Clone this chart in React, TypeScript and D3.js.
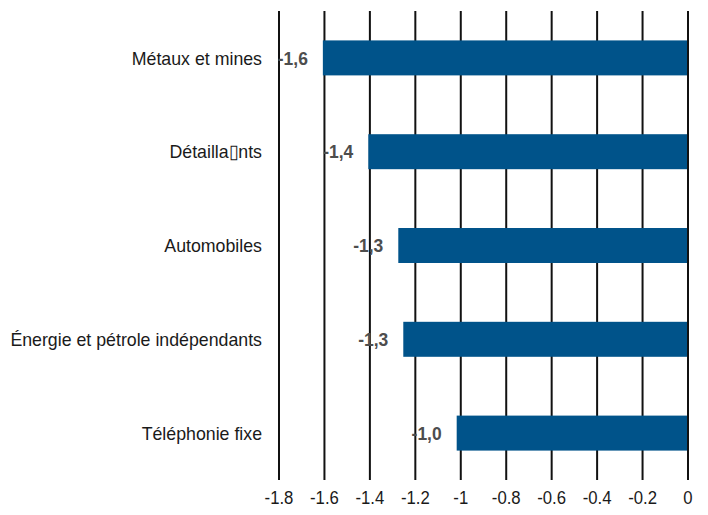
import React from "react";
import * as d3 from "d3";

const categories = [
  "Métaux et mines",
  "Détailla\u25AFnts",
  "Automobiles",
  "Énergie et pétrole indépendants",
  "Téléphonie fixe",
];
const values = [-1.607, -1.407, -1.275, -1.253, -1.018];
const valueLabels = ["-1,6", "-1,4", "-1,3", "-1,3", "-1,0"];
const ticks = [-1.8, -1.6, -1.4, -1.2, -1, -0.8, -0.6, -0.4, -0.2, 0];
const tickLabels = ["-1.8", "-1.6", "-1.4", "-1.2", "-1", "-0.8", "-0.6", "-0.4", "-0.2", "0"];

const W = 708;
const H = 515;
const FONT = "'Liberation Sans', Arial, sans-serif";

export default function App() {
  const x = d3.scaleLinear().domain([-1.8, 0]).range([279, 688]);
  const y = d3
    .scaleBand<string>()
    .domain(categories)
    .range([11, 480])
    .paddingInner(0.627)
    .paddingOuter(0.3135);
  const [y0, y1] = y.range();

  const txt = (
    key: string,
    tx: number,
    ty: number,
    s: string,
    anchor: string,
    opts: { size: number; weight?: string; fill: string; sx: number }
  ) => (
    <text
      key={key}
      transform={`translate(${tx},${ty}) scale(${opts.sx},1)`}
      textAnchor={anchor}
      dominantBaseline="central"
      fontFamily={FONT}
      fontSize={opts.size}
      fontWeight={opts.weight || "normal"}
      fill={opts.fill}
    >
      {s}
    </text>
  );

  return (
    <svg
      width={W}
      height={H}
      style={{ position: "absolute", left: 0, top: 0, background: "#fff" }}
    >
      <g>
        {ticks
          .filter((t) => t !== 0)
          .map((t) => (
            <line
              key={"g" + t}
              x1={x(t)}
              x2={x(t)}
              y1={y0}
              y2={y1}
              stroke="#111"
              strokeWidth={2}
            />
          ))}
      </g>
      <g>
        {categories.map((c, i) => (
          <rect
            key={"b" + c}
            x={x(values[i])}
            y={y(c)!}
            width={x(0) - x(values[i])}
            height={y.bandwidth()}
            fill="#00538A"
          />
        ))}
      </g>
      <line x1={x(0)} x2={x(0)} y1={y0} y2={y1} stroke="#111" strokeWidth={2} />
      <g>
        {categories.map((c, i) =>
          txt(
            "v" + c,
            x(values[i]) - 15,
            y(c)! + y.bandwidth() / 2,
            valueLabels[i],
            "end",
            { size: 19, weight: "bold", fill: "#4d4d4d", sx: 0.92 }
          )
        )}
      </g>
      <g>
        {categories.map((c) =>
          txt("c" + c, 262, y(c)! + y.bandwidth() / 2, c, "end", {
            size: 19,
            fill: "#1a1a1a",
            sx: 0.935,
          })
        )}
      </g>
      <g>
        {ticks.map((t, i) =>
          txt("t" + t, x(t), 498, tickLabels[i], "middle", {
            size: 19,
            fill: "#1a1a1a",
            sx: 0.88,
          })
        )}
      </g>
    </svg>
  );
}
